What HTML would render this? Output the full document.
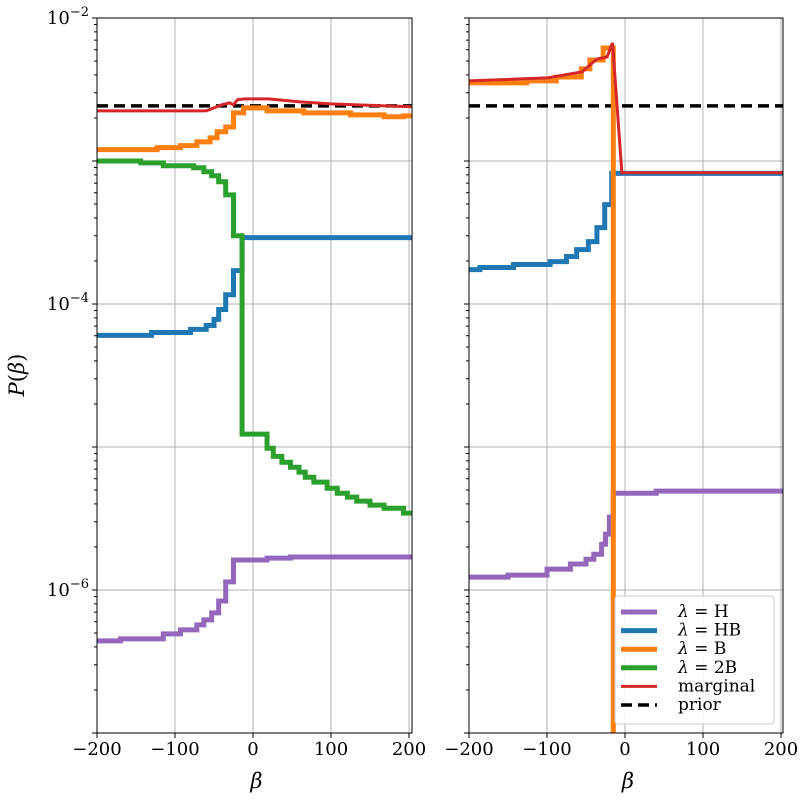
<!DOCTYPE html>
<html><head><meta charset="utf-8"><style>
html,body{margin:0;padding:0;background:#fff;overflow:hidden}
svg{display:block}
text{font-family:"DejaVu Serif","Liberation Serif",serif;fill:#000}
</style></head><body>
<svg id="chart" width="800" height="800" xmlns="http://www.w3.org/2000/svg">
<defs>
<clipPath id="clipL"><rect x="97" y="18" width="315" height="715"/></clipPath>
<clipPath id="clipR"><rect x="469" y="18" width="314" height="715"/></clipPath>
</defs>
<g id="gL"></g><g id="gR"></g>
</svg>
<script>
// ---- data ----
const xTicks=[-200,-100,0,100,200];
const xTickLabels=["\u2212200","\u2212100","0","100","200"];
const yTickExps=[-2,-4,-6];
const priorValue=2.43e-3;
// left panel
const L_H_beta=[-200,-170,-115,-93,-72,-63,-53,-44,-35,-25,18,48];
const L_H_val=[4.41e-7,4.55e-7,4.93e-7,5.26e-7,5.70e-7,6.18e-7,6.92e-7,8.38e-7,1.14e-6,1.62e-6,1.67e-6,1.70e-6];
const L_HB_beta=[-200,-130,-80,-60,-50,-44,-35,-25,-14];
const L_HB_val=[6.03e-5,6.32e-5,6.64e-5,7.08e-5,7.8e-5,9.16e-5,1.16e-4,1.71e-4,2.91e-4];
const L_B_beta=[-200,-123,-93,-72,-55,-46,-35,-25,-12,18,65,125,168,193];
const L_B_val=[1.20e-3,1.24e-3,1.28e-3,1.36e-3,1.45e-3,1.60e-3,1.73e-3,2.17e-3,2.35e-3,2.24e-3,2.17e-3,2.10e-3,2.04e-3,2.07e-3];
const L_2B_beta=[-200,-144,-115,-76,-63,-53,-44,-35,-25,-14,18,26,37,48,59,67,78,95,108,121,133,150,168,193];
const L_2B_val=[1.00e-3,9.7e-4,9.27e-4,8.97e-4,8.41e-4,7.88e-4,7.16e-4,5.8e-4,3.0e-4,1.23e-5,9.8e-6,8.6e-6,7.83e-6,7.22e-6,6.67e-6,6.15e-6,5.68e-6,5.15e-6,4.75e-6,4.46e-6,4.18e-6,3.92e-6,3.73e-6,3.45e-6];
const L_M_beta=[-200,-60,-40,-30,-25,-20,-10,20,60,100,170,210];
const L_M_val=[2.24e-3,2.24e-3,2.47e-3,2.55e-3,2.47e-3,2.68e-3,2.72e-3,2.72e-3,2.59e-3,2.51e-3,2.43e-3,2.39e-3];
// right panel
const R_H_beta=[-200,-150,-100,-70,-50,-40,-30,-25,-20,-15,40];
const R_H_val=[1.23e-6,1.27e-6,1.40e-6,1.52e-6,1.64e-6,1.78e-6,2.09e-6,2.46e-6,3.23e-6,4.75e-6,4.91e-6];
const R_HB_beta=[-200,-186,-143,-96,-75,-62,-47,-36,-26,-17];
const R_HB_val=[1.74e-4,1.80e-4,1.89e-4,1.98e-4,2.15e-4,2.40e-4,2.73e-4,3.42e-4,4.95e-4,8.2e-4];
const R_B_beta=[-200,-126,-88,-56,-45,-28,-15];
const R_B_val=[3.52e-3,3.63e-3,3.87e-3,4.41e-3,5.09e-3,6.17e-3,1e-10];
const R_M_beta=[-200,-100,-55,-36,-23,-16,-4,210];
const R_M_val=[3.63e-3,3.81e-3,4.2e-3,5.17e-3,5.34e-3,6.69e-3,8.28e-4,8.28e-4];

const NS="http://www.w3.org/2000/svg";
const Y0=18,Y1=733,DEC=143,XSC=0.78;
function yS(v){return Y0+(-2-Math.log10(v))*DEC;}
function mk(tag,attrs,parent){const e=document.createElementNS(NS,tag);for(const k in attrs)e.setAttribute(k,attrs[k]);parent.appendChild(e);return e;}
function panel(g,x0,w,clip,series,showY){
  const xS=b=>x0+(b+200)*XSC;
  for(const t of xTicks){const l=mk('line',{x1:xS(t),x2:xS(t),y1:Y0,y2:Y1,stroke:'#b0b0b0','stroke-width':1},g);
    
    }
  for(let e=-7;e<=-2;e++){const y=yS(Math.pow(10,e));const l=mk('line',{x1:x0,x2:x0+w,y1:y,y2:y,stroke:'#b0b0b0','stroke-width':1},g);
    
    }
  const sg=mk('g',{'clip-path':'url(#'+clip+')'},g);
  for(const s of series){
    let d='';const bs=s.b,vs=s.v,end=204;
    if(s.step){for(let i=0;i<bs.length;i++){const x=xS(bs[i]),y=yS(vs[i]);d+=(i?'L'+x+','+yS(vs[i-1])+'L':'M')+x+','+y;}d+='L'+xS(end)+','+yS(vs[vs.length-1]);}
    else{for(let i=0;i<bs.length;i++)d+=(i?'L':'M')+xS(bs[i])+','+yS(vs[i]);}
    const p=mk('path',{d:d,fill:'none',stroke:s.c,'stroke-width':s.w,'stroke-linejoin':'miter'},sg);
    if(s.dash)p.setAttribute('stroke-dasharray',s.dash);
    
    
  }
  const fr=mk('rect',{x:x0,y:Y0,width:w,height:Y1-Y0,fill:'none',stroke:'#000','stroke-width':1},g);
  
  
  for(let i=0;i<xTicks.length;i++){const x=xS(xTicks[i]);mk('line',{x1:x,x2:x,y1:Y1,y2:Y1+5,stroke:'#000'},g);
    const t=mk('text',{x:x,y:Y1+22,'text-anchor':'middle','font-size':18},g);t.textContent=xTickLabels[i];
    
    }
  for(let e=-7;e<=-2;e++){for(let m=1;m<10;m++){if(e==-2&&m>1)break;const y=yS(m*Math.pow(10,e));
    mk('line',{x1:x0,x2:x0-(m==1?5:3),y1:y,y2:y,stroke:'#000'},g);}}
  if(showY){for(const e of yTickExps){const y=yS(Math.pow(10,e));
    const t=mk('text',{x:x0-8,y:y+6,'text-anchor':'end','font-size':18},g);
    t.innerHTML='10<tspan dy="-8" font-size="13">\u2212'+(-e)+'</tspan>';
    
    }}
  const xl=mk('text',{x:x0+w/2+2,y:788,'text-anchor':'middle','font-size':21,'font-style':'italic'},g);xl.textContent='β';
  
  
}
const C={H:'#9467bd',HB:'#1f77b4',B:'#ff7f0e',B2:'#2ca02c',M:'#d62728'};
panel(document.getElementById('gL'),97,315,'clipL',[
 {b:[-200,210],v:[priorValue,priorValue],c:'#000',w:3.5,dash:'11,6',name:'prior-line-left'},
 {b:L_H_beta,v:L_H_val,c:C.H,w:5,step:1,name:'series-h-left'},
 {b:L_HB_beta,v:L_HB_val,c:C.HB,w:5,step:1,name:'series-hb-left'},
 {b:L_B_beta,v:L_B_val,c:C.B,w:5,step:1,name:'series-b-left'},
 {b:L_2B_beta,v:L_2B_val,c:C.B2,w:5,step:1,name:'series-2b-left'},
 {b:L_M_beta,v:L_M_val,c:C.M,w:3,name:'series-marginal-left'}],true);
panel(document.getElementById('gR'),469,314,'clipR',[
 {b:[-200,210],v:[priorValue,priorValue],c:'#000',w:3.5,dash:'11,6',name:'prior-line-right'},
 {b:R_H_beta,v:R_H_val,c:C.H,w:5,step:1,name:'series-h-right'},
 {b:R_HB_beta,v:R_HB_val,c:C.HB,w:5,step:1,name:'series-hb-right'},
 {b:R_B_beta,v:R_B_val,c:C.B,w:5,step:1,name:'series-b-right'},
 {b:R_M_beta,v:R_M_val,c:C.M,w:3,name:'series-marginal-right'}],false);
const svg=document.getElementById('chart');
const yl=mk('text',{x:24,y:375,'text-anchor':'middle','font-size':21,transform:'rotate(-90 24 375)'},svg);
yl.innerHTML='<tspan font-style="italic">P</tspan>(<tspan font-style="italic">β</tspan>)';


const lg=mk('g',{},svg);


mk('rect',{x:615,y:596,width:159,height:128,rx:3,fill:'#fff','fill-opacity':0.85,stroke:'#ccc'},lg);
const legItems=[['H',C.H,5,''],['HB',C.HB,5,''],['B',C.B,5,''],['2B',C.B2,5,''],['marginal',C.M,3,''],['prior','#000',3.5,'11,6']];
legItems.forEach((it,i)=>{const y=612+i*18.6;
  const l=mk('line',{x1:621,x2:657,y1:y,y2:y,stroke:it[1],'stroke-width':it[2]},lg);if(it[3])l.setAttribute('stroke-dasharray',it[3]);
  const t=mk('text',{x:678,y:y+5,'font-size':17},lg);
  if(i<4){t.innerHTML='<tspan font-style="italic">λ</tspan> = '+it[0];}else t.textContent=it[0];
  
  
});
</script>
</body></html>
